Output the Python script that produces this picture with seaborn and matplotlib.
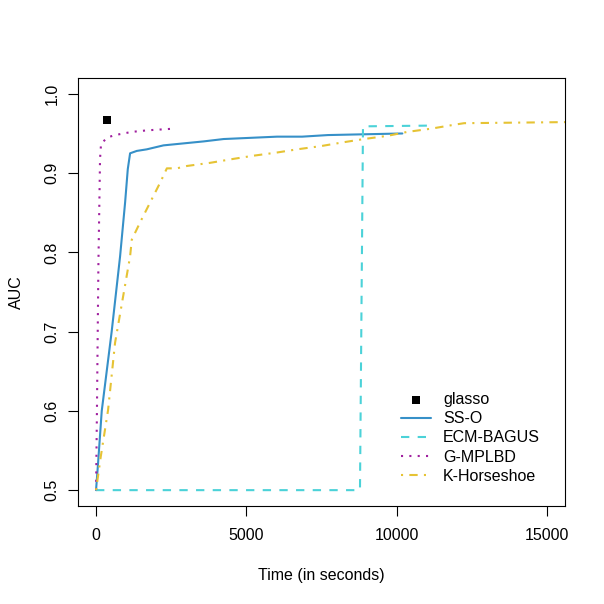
import matplotlib
matplotlib.use("Agg")
import matplotlib.pyplot as plt
import seaborn as sns

# glasso: single point
glasso_t = [377]
glasso_auc = [0.967]

# SS-O
sso_t = [0, 60, 190, 520, 800, 967, 1056, 1133, 1356, 1689, 2244, 3578, 4244,
         6022, 6856, 7711, 8933, 10190]
sso_auc = [0.500, 0.530, 0.600, 0.700, 0.795, 0.863, 0.905, 0.925, 0.928, 0.930,
           0.935, 0.940, 0.943, 0.946, 0.946, 0.948, 0.949, 0.950]

# ECM-BAGUS
ecm_t = [0, 8780, 8880, 11230]
ecm_auc = [0.500, 0.500, 0.959, 0.960]

# G-MPLBD
gm_t = [0, 30, 78, 133, 167, 378, 633, 1189, 1711, 2556]
gm_auc = [0.500, 0.600, 0.783, 0.918, 0.937, 0.945, 0.948, 0.952, 0.954, 0.956]

# K-Horseshoe
kh_t = [0, 156, 400, 633, 1133, 1189, 1467, 1800, 2133, 2356, 2689, 3022, 3800,
        4578, 5244, 6022, 6689, 7467, 8244, 8911, 9689, 10356, 11133, 11911,
        12244, 16000]
kh_auc = [0.500, 0.542, 0.601, 0.686, 0.795, 0.816, 0.838, 0.863, 0.888, 0.906,
          0.906, 0.909, 0.913, 0.918, 0.922, 0.926, 0.930, 0.934, 0.939, 0.943,
          0.947, 0.952, 0.956, 0.961, 0.963, 0.9645]

x_ticks = [0, 5000, 10000, 15000]
y_ticks = [0.5, 0.6, 0.7, 0.8, 0.9, 1.0]
y_tick_labels = ["0.5", "0.6", "0.7", "0.8", "0.9", "1.0"]

sns.set_theme(style="ticks")
plt.rcParams['font.family'] = ['Liberation Sans', 'DejaVu Sans']

fig = plt.figure(figsize=(6.04, 6.04), dpi=100)
ax = fig.add_axes([78 / 604, 1 - 506 / 604, 487 / 604, 428 / 604])

lw = 1.5
sns.lineplot(x=sso_t, y=sso_auc, sort=False, estimator=None, color="#3690C8",
             lw=lw, label="SS-O", ax=ax)
sns.lineplot(x=ecm_t, y=ecm_auc, sort=False, estimator=None, color="#4BD2D8",
             lw=lw, linestyle=(0, (4, 4)), label="ECM-BAGUS", ax=ax)
sns.lineplot(x=gm_t, y=gm_auc, sort=False, estimator=None, color="#A0209F",
             lw=lw, linestyle=(0, (1, 3)), label="G-MPLBD", ax=ax)
sns.lineplot(x=kh_t, y=kh_auc, sort=False, estimator=None, color="#E6C334",
             lw=lw, linestyle=(0, (1, 3, 4, 3)), label="K-Horseshoe", ax=ax)
sns.scatterplot(x=glasso_t, y=glasso_auc, marker="s", color="black", s=28,
                linewidth=0, label="glasso", ax=ax)

ax.set_xlim(-600, 15600)
ax.set_ylim(0.48, 1.02)
ax.set_xticks(x_ticks)
ax.set_xticklabels([str(v) for v in x_ticks])
ax.set_yticks(y_ticks)
ax.set_yticklabels(y_tick_labels, rotation=90, va="center")

for sp in ax.spines.values():
    sp.set_visible(True)
    sp.set_color("black")
    sp.set_linewidth(0.8)
ax.tick_params(direction="out", length=7.2, width=0.8, color="black",
               labelsize=11.5, labelcolor="black", pad=6)
ax.tick_params(axis="x", pad=9)

ax.set_xlabel("Time (in seconds)", fontsize=11.5, color="black")
ax.set_ylabel("AUC", fontsize=11.5, color="black")
ax.xaxis.set_label_coords(0.5, -0.145)
ax.yaxis.set_label_coords(-0.11, 0.5)

handles, labels = ax.get_legend_handles_labels()
order = ["glasso", "SS-O", "ECM-BAGUS", "G-MPLBD", "K-Horseshoe"]
hmap = dict(zip(labels, handles))
leg = ax.legend([hmap[k] for k in order], order, loc="upper left",
                bbox_to_anchor=(0.663, 0.266), frameon=False, fontsize=11.5,
                handlelength=1.9, handletextpad=0.74, labelspacing=0.26,
                borderpad=0, borderaxespad=0, markerscale=1.0)
for txt in leg.get_texts():
    txt.set_color("black")

fig.savefig("out.png", dpi=100, facecolor="white")
